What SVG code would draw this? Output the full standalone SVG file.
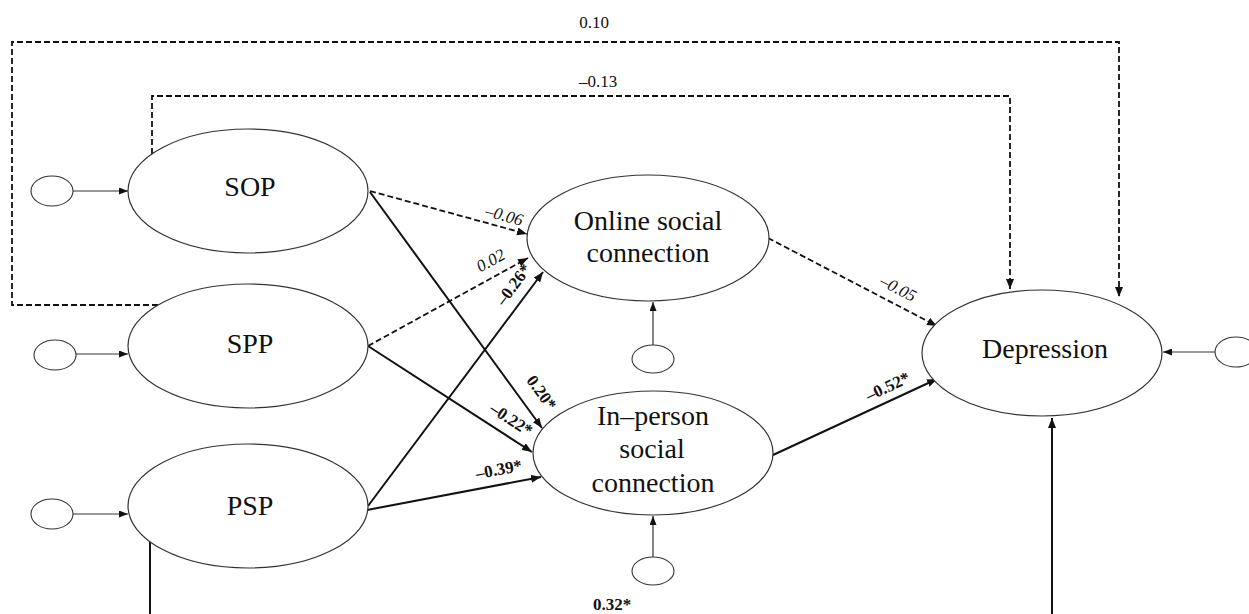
<svg xmlns="http://www.w3.org/2000/svg" width="1249" height="614" viewBox="0 0 1249 614">
<style>
.node{fill:#fff;stroke:#333;stroke-width:1.2}
.err{fill:#fff;stroke:#333;stroke-width:1.1}
.nl{font-family:"Liberation Serif","DejaVu Serif",serif;font-size:28px;fill:#111;text-anchor:middle}
.c{fill:none;stroke:#111;stroke-width:2}
.d{fill:none;stroke:#111;stroke-width:1.8;stroke-dasharray:6 3}
.e{fill:none;stroke:#333;stroke-width:1.2}
.lab{font-family:"Liberation Serif","DejaVu Serif",serif;font-size:17px;fill:#111;text-anchor:middle}
.b{font-weight:bold}
.i{font-style:italic}
</style>
<defs>
<marker id="ah" markerUnits="userSpaceOnUse" markerWidth="10" markerHeight="8" refX="10" refY="4" orient="auto"><path d="M0,0 L10,4 L0,8 z" fill="#111"/></marker>
<marker id="as" markerUnits="userSpaceOnUse" markerWidth="9" markerHeight="7" refX="9" refY="3.5" orient="auto"><path d="M0,0 L9,3.5 L0,7 z" fill="#111"/></marker>
</defs>
<rect width="1249" height="614" fill="#fff"/>
<g id="connectors">
<path class="d" d="M158,305 H12 V42 H1119 V297" marker-end="url(#ah)"/>
<path class="d" d="M152,154 V96 H1010 V289" marker-end="url(#ah)"/>
<path class="d" d="M370,191 L527,234" marker-end="url(#ah)"/>
<path class="d" d="M368,346 L528,258" marker-end="url(#ah)"/>
<path class="c" d="M368,506 L543,272" marker-end="url(#ah)"/>
<path class="c" d="M370,192 L542,428" marker-end="url(#ah)"/>
<path class="c" d="M368,346 L532,452" marker-end="url(#ah)"/>
<path class="c" d="M367,510 L541,477" marker-end="url(#ah)"/>
<path class="d" d="M768,238 L937,326" marker-end="url(#ah)"/>
<path class="c" d="M773,455 L937,379" marker-end="url(#ah)"/>
<path class="c" d="M150,542 V614"/>
<path class="c" d="M1052,614 V418" marker-end="url(#ah)"/>
<path class="e" d="M73,191 H128" marker-end="url(#as)"/>
<path class="e" d="M76,354 H128" marker-end="url(#as)"/>
<path class="e" d="M73,514 H128" marker-end="url(#as)"/>
<path class="e" d="M653,345 V302" marker-end="url(#as)"/>
<path class="e" d="M653,557 V516" marker-end="url(#as)"/>
<path class="e" d="M1215,352 H1163" marker-end="url(#as)"/>
<text class="lab" x="594" y="28">0.10</text>
<text class="lab" x="598" y="87">–0.13</text>
<text class="lab i" transform="translate(504,216) rotate(15.3)" y="5">–0.06</text>
<text class="lab i" transform="translate(491,261) rotate(-28.8)" y="5">0.02</text>
<text class="lab b" transform="translate(514,285) rotate(-53.2)" y="5">–0.26*</text>
<text class="lab b" transform="translate(541,393) rotate(53.9)" y="5">0.20*</text>
<text class="lab b" transform="translate(511,420) rotate(32.9)" y="5">–0.22*</text>
<text class="lab b" transform="translate(499,470) rotate(-10.7)" y="5">–0.39*</text>
<text class="lab i" transform="translate(898,289) rotate(27.5)" y="5">–0.05</text>
<text class="lab b" transform="translate(888,387) rotate(-24.9)" y="5">–0.52*</text>
<text class="lab b" x="612" y="610">0.32*</text>
</g>
<g id="e-sop"><ellipse class="err" cx="52" cy="191" rx="21" ry="15"/></g>
<g id="e-spp"><ellipse class="err" cx="55" cy="355" rx="21" ry="15"/></g>
<g id="e-psp"><ellipse class="err" cx="52" cy="514" rx="21" ry="15"/></g>
<g id="e-online"><ellipse class="err" cx="653" cy="359" rx="21" ry="14"/></g>
<g id="e-inperson"><ellipse class="err" cx="653" cy="571" rx="21" ry="14"/></g>
<g id="e-dep"><ellipse class="err" cx="1236" cy="352" rx="21" ry="15"/></g>
<g id="sop"><ellipse class="node" cx="248" cy="191" rx="120" ry="62"/><text class="nl" x="250" y="196">SOP</text></g>
<g id="spp"><ellipse class="node" cx="248" cy="346" rx="120" ry="62"/><text class="nl" x="250" y="353">SPP</text></g>
<g id="psp"><ellipse class="node" cx="248" cy="506" rx="120" ry="62"/><text class="nl" x="250" y="515">PSP</text></g>
<g id="online"><ellipse class="node" cx="648" cy="238" rx="121" ry="63"/><text class="nl" x="648" y="230">Online social</text><text class="nl" x="648" y="262">connection</text></g>
<g id="inperson"><ellipse class="node" cx="653" cy="453" rx="120" ry="62"/><text class="nl" x="653" y="425">In–person</text><text class="nl" x="652" y="458">social</text><text class="nl" x="653" y="492">connection</text></g>
<g id="depression"><ellipse class="node" cx="1042" cy="353" rx="120" ry="63"/><text class="nl" x="1045" y="358">Depression</text></g>
</svg>
